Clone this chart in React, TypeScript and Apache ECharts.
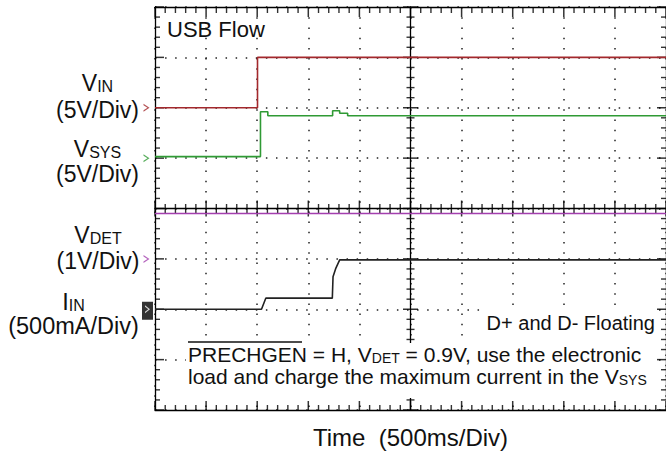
import React, { useEffect, useRef } from 'react';
import * as echarts from 'echarts';

// ---- scope settings ----
const timePerDivMs = 500;
const divisionsX = 10;
const divisionsY = 8;
const minorPerDiv = 5;

// channel reference levels (in divisions from bottom) and scales (units / division)
const channelOffsetDiv = { vin: 6, vsys: 5, vdet: 3, iin: 2 };
const channelScale = { vin: 5, vsys: 5, vdet: 1, iin: 500 };
const channelColor = { vin: '#a3282c', vsys: '#2f9a34', vdet: '#a33fae', iin: '#222222' };

// ---- traces (time in ms, values in V / mA) ----
const vinTimeMs = [0, 1003, 1003, 5000];
const vinVolts = [0, 0, 5, 5];

const vsysTimeMs = [0, 1032, 1032, 1104, 1104, 1738, 1738, 1807, 1807, 1885, 1885, 5000];
const vsysVolts = [0.15, 0.15, 4.6, 4.6, 4.2, 4.2, 4.7, 4.7, 4.45, 4.45, 4.2, 4.2];

const vdetTimeMs = [0, 5000];
const vdetVolts = [0.9, 0.9];

const iinTimeMs = [0, 1042, 1084, 1735, 1742, 1770, 1807, 5000];
const iinMilliamps = [0, 0, 110, 110, 322, 409, 490, 490];

const FONT = '"Liberation Sans", Arial, Helvetica, sans-serif';

// plot geometry
const GRID_LEFT = 155;
const GRID_TOP = 7;
const GRID_W = 511;
const GRID_H = 403;

const fullTime = timePerDivMs * divisionsX;
const majorT = Array.from({ length: divisionsX + 1 }, (_, i) => i * timePerDivMs);
const minorT = Array.from({ length: divisionsX * minorPerDiv + 1 }, (_, i) => (i * timePerDivMs) / minorPerDiv)
  .filter((_, i) => i % minorPerDiv !== 0);
const majorV = Array.from({ length: divisionsY + 1 }, (_, i) => i);
const minorV = Array.from({ length: divisionsY * minorPerDiv + 1 }, (_, i) => i / minorPerDiv)
  .filter((_, i) => i % minorPerDiv !== 0);

type Ch = 'vin' | 'vsys' | 'vdet' | 'iin';
function toDiv(times: number[], values: number[], ch: Ch) {
  return times.map((t, i) => [t, channelOffsetDiv[ch] + values[i] / channelScale[ch]]);
}

function xAxisDef(position: string, offset: number, split: boolean) {
  return {
    type: 'value', position, offset, min: 0, max: fullTime, interval: timePerDivMs,
    axisLine: { show: true, onZero: false, lineStyle: { color: '#000', width: 1.3 } },
    axisTick: { show: false },
    minorTick: { show: false },
    axisLabel: { show: false },
    splitLine: split
      ? { show: true, lineStyle: { color: '#222', width: 1.5, type: [1.5, 8.72] } }
      : { show: false },
    minorSplitLine: { show: false },
  };
}
function yAxisDef(position: string, offset: number, split: boolean) {
  return {
    type: 'value', position, offset, min: 0, max: divisionsY, interval: 1,
    axisLine: { show: true, onZero: false, lineStyle: { color: '#000', width: 1.3 } },
    axisTick: { show: false },
    minorTick: { show: false },
    axisLabel: { show: false },
    splitLine: split
      ? { show: true, lineStyle: { color: '#222', width: 1.5, type: [1.5, 8.58] } }
      : { show: false },
    minorSplitLine: { show: false },
  };
}

// graticule tick marks, placed through the axes' scales
function tickSeries(data: number[][], size: number[], offset: number[]) {
  return {
    type: 'scatter', data, symbol: 'rect', symbolSize: size, symbolOffset: offset,
    itemStyle: { color: '#000' }, clip: false, silent: true, z: 1,
    xAxisIndex: 0, yAxisIndex: 0, animation: false,
  };
}
function graticuleTicks() {
  const out: any[] = [];
  const at = (ts: number[], v: number) => ts.map((t) => [t, v]);
  const atV = (t: number, vs: number[]) => vs.map((v) => [t, v]);
  // bottom border
  out.push(tickSeries(at(majorT, 0), [1.5, 9], [0, -4.5]));
  out.push(tickSeries(at(minorT, 0), [1.4, 5], [0, -2.5]));
  // top border
  out.push(tickSeries(at(majorT, divisionsY), [1.5, 10], [0, 5]));
  out.push(tickSeries(at(minorT, divisionsY), [1.4, 6], [0, 3]));
  // horizontal centre line
  out.push(tickSeries(at(majorT, divisionsY / 2), [1.5, 16], [0, 0]));
  out.push(tickSeries(at(minorT, divisionsY / 2), [1.4, 9], [0, 0]));
  // left border
  out.push(tickSeries(atV(0, majorV), [9, 1.5], [4.5, 0]));
  out.push(tickSeries(atV(0, minorV), [5, 1.4], [2.5, 0]));
  // right border
  out.push(tickSeries(atV(fullTime, majorV), [9, 1.5], [-4.5, 0]));
  out.push(tickSeries(atV(fullTime, minorV), [5, 1.4], [-2.5, 0]));
  // vertical centre line
  out.push(tickSeries(atV(fullTime / 2, majorV), [15, 1.5], [0, 0]));
  out.push(tickSeries(atV(fullTime / 2, minorV), [8, 1.4], [0, 0]));
  return out;
}

const CHEVRON = 'path://M0,0L10,8L0,16L0,13L6.5,8L0,3Z';

// two-line channel label: first line with subscript, second line with scale
function chanLabel(x: number, yLine1: number, yLine2: number, main: string, sub: string, scale: string, size: number) {
  const L = yLine2 - yLine1;
  const subSize = Math.round(size * 0.68);
  return {
    type: 'text', x, y: (yLine1 + yLine2) / 2, z: 5,
    style: {
      text: `{n|${main}}{s|${sub}}\n{n|${scale}}`,
      fill: '#111', fontFamily: FONT, fontSize: size, align: 'center', verticalAlign: 'middle',
      rich: {
        n: { fontFamily: FONT, fontSize: size, fill: '#111', lineHeight: L, verticalAlign: 'bottom' },
        s: { fontFamily: FONT, fontSize: subSize, fill: '#111', lineHeight: L - 0.69 * (size - subSize), verticalAlign: 'bottom' },
      },
    },
  };
}

function label(x: number, y: number, text: string, align = 'center', size = 22) {
  const subSize = Math.round(size * 0.68);
  return {
    type: 'text', x, y, z: 5,
    style: {
      text, fill: '#111', fontFamily: FONT, fontSize: size, align, verticalAlign: 'middle',
      rich: {
        n: { fontFamily: FONT, fontSize: size, fill: '#111', lineHeight: size + 2, verticalAlign: 'bottom' },
        s: { fontFamily: FONT, fontSize: subSize, fill: '#111', lineHeight: size + 2 - 0.69 * (size - subSize), verticalAlign: 'bottom' },
      },
    },
  };
}

export default function App() {
  const ref = useRef<HTMLDivElement>(null);
  useEffect(() => {
    if (!ref.current) return;
    const chart = echarts.init(ref.current, null, { renderer: 'svg' });
    const centerX = -GRID_W / 2;
    const centerY = -GRID_H / 2;
    const lineSeries = (name: string, ch: Ch, data: number[][]) => ({
      name, type: 'line', data, showSymbol: false, symbol: 'none', z: 3,
      lineStyle: { color: channelColor[ch], width: 1.6 }, xAxisIndex: 0, yAxisIndex: 0,
    });
    const marker = (ch: Ch, color: string, size: number[], symbol: string, z = 4) => ({
      type: 'scatter', data: [[0, channelOffsetDiv[ch]]], symbol, symbolSize: size,
      symbolOffset: [-8.5, 0], clip: false, silent: true, z,
      itemStyle: { color }, xAxisIndex: 0, yAxisIndex: 0,
    });
    chart.setOption({
      animation: false,
      backgroundColor: '#fff',
      grid: { left: GRID_LEFT, top: GRID_TOP, width: GRID_W, height: GRID_H, outerBoundsMode: 'none' },
      xAxis: [
        xAxisDef('bottom', 0, true),
        xAxisDef('top', 0, false),
        xAxisDef('bottom', centerY, false),
      ],
      yAxis: [
        yAxisDef('left', 0, true),
        yAxisDef('right', 0, false),
        yAxisDef('left', centerX, false),
      ],
      series: [
        ...graticuleTicks(),
        lineSeries('VDET', 'vdet', toDiv(vdetTimeMs, vdetVolts, 'vdet')),
        lineSeries('VIN', 'vin', toDiv(vinTimeMs, vinVolts, 'vin')),
        lineSeries('VSYS', 'vsys', toDiv(vsysTimeMs, vsysVolts, 'vsys')),
        lineSeries('IIN', 'iin', toDiv(iinTimeMs, iinMilliamps, 'iin')),
        marker('vin', channelColor.vin, [6, 8], CHEVRON),
        marker('vsys', channelColor.vsys, [6, 8], CHEVRON),
        marker('vdet', channelColor.vdet, [6, 8], CHEVRON),
        { ...marker('iin', '#000', [11, 18], 'rect'), symbolOffset: [-7.5, 1.5] },
        { ...marker('iin', '#fff', [5, 8], CHEVRON, 5), symbolOffset: [-7.5, 0] },
      ],
      graphic: [
        // white panels behind annotation text
        { type: 'rect', z: 2, shape: { x: 483, y: 307, width: 174, height: 34 }, style: { fill: '#fff' } },
        { type: 'rect', z: 2, shape: { x: 186, y: 343, width: 471, height: 55 }, style: { fill: '#fff' } },
        chanLabel(97.5, 81, 108, 'V', 'IN', '(5V/Div)', 23),
        chanLabel(97.5, 147.5, 173, 'V', 'SYS', '(5V/Div)', 23),
        chanLabel(98, 234, 259.5, 'V', 'DET', '(1V/Div)', 23),
        chanLabel(73.5, 301.5, 325.5, 'I', 'IN', '(500mA/Div)', 23.5),
        label(167, 29, 'USB Flow', 'left', 22),
        label(655, 323, 'D+ and D- Floating', 'right', 20),
        label(188, 353, '{n|PRECHGEN = H, V}{s|DET}{n| = 0.9V, use the electronic}', 'left', 21),
        label(188, 375, '{n|load and charge the maximum current in the V}{s|SYS}', 'left', 21),
        { type: 'line', z: 5, shape: { x1: 188, y1: 342, x2: 302, y2: 342 }, style: { stroke: '#111', lineWidth: 1.3 } },
        label(410.5, 437, 'Time  (500ms/Div)', 'center', 24),
      ],
    });
    return () => chart.dispose();
  }, []);
  return (
    <div
      ref={ref}
      style={{ position: 'absolute', left: 0, top: 0, width: 666, height: 455, background: '#fff' }}
    />
  );
}
